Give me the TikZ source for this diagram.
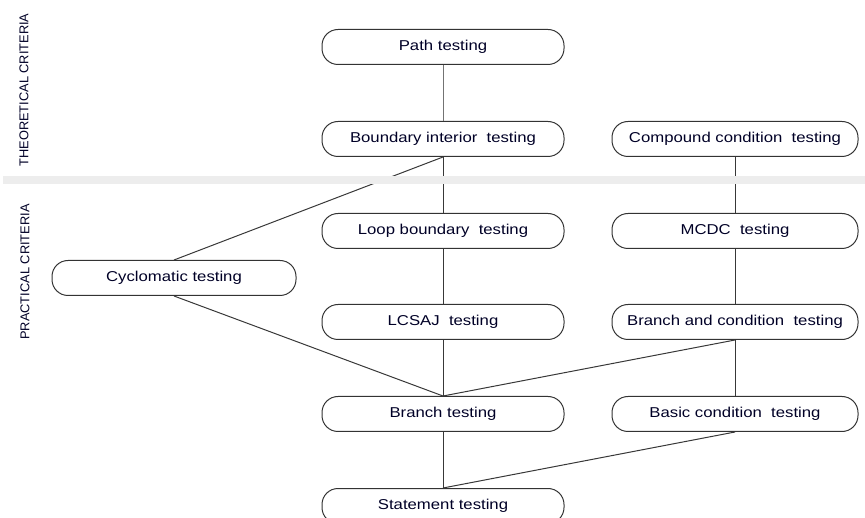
\documentclass[tikz,border=0pt]{standalone}
\usepackage{fontspec}
\setmainfont{Liberation Sans}
\newfontfamily\boxfont[FakeStretch=1.17]{Liberation Sans}
\begin{document}
\begin{tikzpicture}[x=1pt,y=-1pt,
  crit/.style={draw=black!80, line width=1pt, rounded corners=16pt,
    minimum width=242pt, minimum height=35pt, inner sep=0pt,
    font=\boxfont\fontsize{14.3}{16}\selectfont, text=black!85!blue},
  link/.style={draw=black!78, line width=1pt},
  side/.style={rotate=90, font=\fontsize{12.8}{15}\selectfont, text=black!85!blue}]
\useasboundingbox (0,0) rectangle (865,518);
\clip (0,0) rectangle (865,518);

% criteria boxes
\node[crit] (path)  at (443,47)  {Path testing};
\node[crit] (bi)    at (443,139) {Boundary interior\ \ testing};
\node[crit,minimum width=246pt] (cc) at (735,139) {Compound condition\ \ testing};
\node[crit] (lb)    at (443,231) {Loop boundary\ \ testing};
\node[crit,minimum width=246pt] (mcdc) at (735,231) {MCDC\ \ testing};
\node[crit,minimum width=244pt] (cyc) at (174,278) {Cyclomatic testing};
\node[crit] (lcsaj) at (443,322) {LCSAJ\ \ testing};
\node[crit,minimum width=246pt] (bc) at (735,322) {Branch and condition\ \ testing};
\node[crit] (br)    at (443,414) {Branch testing};
\node[crit,minimum width=246pt] (basic) at (735,414) {Basic condition\ \ testing};
\node[crit] (st)    at (443,506) {Statement testing};

% subsumption links
\draw[link,draw=black!55] (path) -- (bi);
\draw[link] (bi) -- (lb);
\draw[link] (cc) -- (mcdc);
\draw[link] (bi.south) -- (cyc.north);
\draw[link] (cyc.south) -- (br.north);
\draw[link] (lb) -- (lcsaj);
\draw[link] (lcsaj) -- (br);
\draw[link] (mcdc) -- (bc);
\draw[link] (bc.south) -- (br.north);
\draw[link] (bc) -- (basic);
\draw[link] (br) -- (st);
\draw[link] (basic.south) -- (st.north);

% separator between theoretical and practical criteria
\fill[black!7] (3,176) rectangle (865,184);

% side labels
\node[side] (theo) at (24,90) {THEORETICAL CRITERIA};
\node[side] (prac) at (25,272) {PRACTICAL CRITERIA};
\end{tikzpicture}
\end{document}
